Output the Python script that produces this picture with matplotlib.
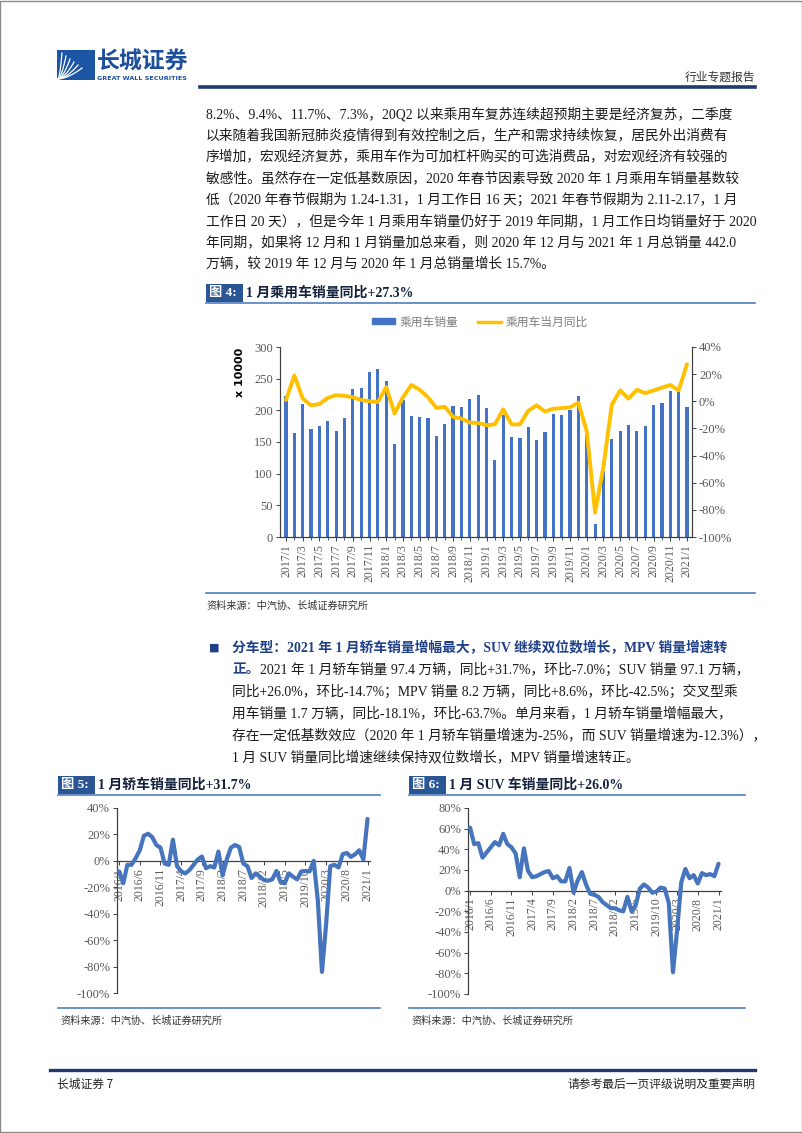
import matplotlib
matplotlib.use("Agg")
import matplotlib.pyplot as plt
from matplotlib.patches import Rectangle, Patch
from matplotlib.lines import Line2D
from matplotlib.ticker import FuncFormatter
import numpy as np

# ---------------- data ----------------
sales_labels = ["2017/1", "2017/3", "2017/5", "2017/7", "2017/9", "2017/11",
                "2018/1", "2018/3", "2018/5", "2018/7", "2018/9", "2018/11",
                "2019/1", "2019/3", "2019/5", "2019/7", "2019/9", "2019/11",
                "2020/1", "2020/3", "2020/5", "2020/7", "2020/9", "2020/11",
                "2021/1"]
# 乘用车销量 (x 10000), monthly 2017/1 .. 2021/1
car_sales = [222, 164, 210, 171, 175, 183, 168, 188, 234, 236, 260, 266,
             246, 147, 217, 191, 189, 188, 159, 179, 207, 205, 218, 224,
             203, 122, 193, 158, 156, 173, 153, 166, 194, 193, 201, 222,
             161, 21, 104, 154, 168, 177, 167, 176, 209, 211, 231, 229,
             206]
# 乘用车当月同比 (%)
car_yoy = [1, 19, 2, -3, -2, 2.5, 4.5, 4, 3, 1, 0, -0.5,
           10.5, -9, 3, 12, 8.5, 3, -5, -4, -11.5, -12.7, -15.7, -16,
           -17.6, -17, -6, -17, -17, -7, -3, -7.5, -5.5, -5, -4.5, -1,
           -22, -82, -48, -2.5, 8, 2, 8.5, 6, 8, 10, 12, 8,
           27.3]

yoy_labels = ["2016/1", "2016/6", "2016/11", "2017/4", "2017/9", "2018/2",
              "2018/7", "2018/12", "2019/5", "2019/10", "2020/3", "2020/8",
              "2021/1"]
# 轿车销量同比 (%), monthly 2016/1 .. 2021/1
sedan_yoy = [-8, -17, -3, -3, 2, 8, 19, 20.5, 18, 12, 10, -2,
             -3, 16, -4, -8, -9.5, -7, -3, 1, 3.3, -5.6, -4, -5,
             7, -11, 1, 10, 12, 10.5, -2, -4, -13, -9.5, -12, -14.6,
             -15, -14, -7.7, -16, -17, -9.5, -12, -14, -8, -7.7, -8, 0,
             -30, -84, -48, -4, -3, -5, 5, 6, 3, 5, 8, 1,
             31.7]
# SUV销量同比 (%), monthly 2016/1 .. 2021/1
suv_yoy = [61, 45, 46, 32, 37, 42, 47, 44, 55, 45, 42, 36,
           13, 41, 19, 13, 14, 16, 18, 19, 12, 14, 9, 9,
           22, -2, 10, 18, 6, -3, -4, -6, -11, -14, -17, -17,
           -19, -20, -6, -20, -14, 2, 6, 3, -2, -1, 3, 2,
           -12, -79, -38, 8, 21, 12, 15, 7, 17, 15, 16, 14,
           26]

para1 = [
    "8.2%、9.4%、11.7%、7.3%，20Q2 以来乘用车复苏连续超预期主要是经济复苏，二季度",
    "以来随着我国新冠肺炎疫情得到有效控制之后，生产和需求持续恢复，居民外出消费有",
    "序增加，宏观经济复苏，乘用车作为可加杠杆购买的可选消费品，对宏观经济有较强的",
    "敏感性。虽然存在一定低基数原因，2020 年春节因素导致 2020 年 1 月乘用车销量基数较",
    "低（2020 年春节假期为 1.24-1.31，1 月工作日 16 天；2021 年春节假期为 2.11-2.17，1 月",
    "工作日 20 天），但是今年 1 月乘用车销量仍好于 2019 年同期，1 月工作日均销量好于 2020",
    "年同期，如果将 12 月和 1 月销量加总来看，则 2020 年 12 月与 2021 年 1 月总销量 442.0",
    "万辆，较 2019 年 12 月与 2020 年 1 月总销量增长 15.7%。",
]
bullet_title = "分车型：2021 年 1 月轿车销量增幅最大，SUV 继续双位数增长，MPV 销量增速转"
bullet_lines = [
    "2021 年 1 月轿车销量 97.4 万辆，同比+31.7%，环比-7.0%；SUV 销量 97.1 万辆，",
    "同比+26.0%，环比-14.7%；MPV 销量 8.2 万辆，同比+8.6%，环比-42.5%；交叉型乘",
    "用车销量 1.7 万辆，同比-18.1%，环比-63.7%。单月来看，1 月轿车销量增幅最大，",
    "存在一定低基数效应（2020 年 1 月轿车销量增速为-25%，而 SUV 销量增速为-12.3%），",
    "1 月 SUV 销量同比增速继续保持双位数增长，MPV 销量增速转正。",
]

# ---------------- page ----------------
W, H = 802, 1133
fig = plt.figure(figsize=(W / 100, H / 100), dpi=100)
fig.patch.set_facecolor("white")

SER = ["Liberation Serif", "Noto Sans CJK SC"]
SANS = ["Noto Sans CJK SC", "DejaVu Sans"]
NAVY = "#1F3A6E"
BOXBLUE = "#2A5696"
RULE = "#4F7FBF"
TXT = "#1a1a1a"
BAR = "#4472C4"
GOLD = "#FFC000"
LINEBLUE = "#4675BD"
TICK = "#595959"


def fx(x):
    return x / W


def fy(y):
    return 1 - y / H


def ftext(x, y, s, **kw):
    kw.setdefault("family", SER)
    kw.setdefault("va", "center")
    kw.setdefault("color", TXT)
    return fig.text(fx(x), fy(y), s, **kw)


def hline(x0, x1, y, color, lw):
    fig.add_artist(Line2D([fx(x0), fx(x1)], [fy(y), fy(y)], color=color,
                          lw=lw, transform=fig.transFigure))


def frect(x0, y0, x1, y1, color, **kw):
    fig.add_artist(Rectangle((fx(x0), fy(y1)), fx(x1) - fx(x0), fy(y0) - fy(y1),
                             facecolor=color, edgecolor="none",
                             transform=fig.transFigure, **kw))


# page frame
fig.add_artist(Rectangle((0.0005, 0.0005), 0.999, 0.999, fill=False,
                         edgecolor="#8a8a8a", lw=1.0, transform=fig.transFigure))

# header logo
frect(57, 50, 95, 80, "#1B56A5")
for k in range(6):
    t = np.linspace(0, 1, 20)
    xs = 58 + (4 + 4 * k) * t ** 0.6
    ys = 79 - (26 - 3 * k) * t
    fig.add_artist(Line2D(fx(xs), fy(ys), color="white", lw=0.9,
                          transform=fig.transFigure))
ftext(97, 62, "长城证券", family=SANS, fontsize=16.5, fontweight="bold", color="#1D4F9C")
ftext(97, 78, "GREAT WALL SECURITIES", family="DejaVu Sans", fontsize=4.6,
      fontweight="bold", color="#1D4F9C")
ftext(755, 77, "行业专题报告", family=SANS, fontsize=8.5, ha="right", color="#333333")
hline(200, 755, 87, NAVY, 2.6)

# paragraph 1
for i, s in enumerate(para1):
    ftext(206, 114 + 21.4 * i, s, fontsize=9.9)


def fig_title(x0, x1, y, num, title):
    frect(x0, y - 9, x0 + 37, y + 9, BOXBLUE)
    ftext(x0 + 3, y, num, fontsize=9.5, fontweight="bold", color="white")
    ftext(x0 + 40, y, title, fontsize=10, fontweight="bold", color="#14213D")
    hline(x0, x1, y + 9.5, RULE, 1.2)


# figure 4 title
fig_title(206, 755, 293, "图 4:", "1 月乘用车销量同比+27.3%")

# ---------------- chart 4 ----------------
ax4 = fig.add_axes([fx(280), fy(537), (692 - 280) / W, (537 - 347) / H])
xs4 = np.arange(len(car_sales))
bars = ax4.bar(xs4, car_sales, width=0.38, color=BAR, zorder=2)
ax4.set_ylim(0, 300)
ax4.set_yticks(range(0, 301, 50))
ax4.set_xlim(-0.72, len(car_sales) - 1 + 0.6)
ax4.set_xticks(np.arange(0, len(car_sales), 2))
ax4.set_xticklabels(sales_labels)
ax4.set_xticks(xs4, minor=True)
ax4r = ax4.twinx()
ax4r.plot(xs4, car_yoy, color=GOLD, lw=2.8, solid_joinstyle="round",
          solid_capstyle="round", zorder=3)
ax4r.set_ylim(-100, 40)
ax4r.set_yticks(range(-100, 41, 20))
ax4r.yaxis.set_major_formatter(FuncFormatter(lambda v, p: f"{v:.0f}%"))
for a in (ax4, ax4r):
    a.spines["top"].set_visible(False)
    for s in ("left", "right", "bottom"):
        a.spines[s].set_color("#404040")
        a.spines[s].set_linewidth(0.8)
    a.tick_params(axis="both", which="major", length=3, width=0.7, color="#404040",
                  labelsize=9, labelcolor=TICK, pad=2, labelfontfamily="Liberation Serif")
    a.tick_params(axis="x", which="minor", length=2, width=0.6, color="#404040")
ax4.tick_params(axis="x", labelsize=8.5, labelrotation=90)
ax4.set_facecolor("none")
ftext(240, 372, "x 10000", family="DejaVu Sans", fontsize=8, fontweight="bold",
      rotation=90, ha="center", color="black")
leg = ax4.legend(handles=[Patch(color=BAR), Line2D([], [], color=GOLD, lw=2.5)],
                 labels=["乘用车销量", "乘用车当月同比"], ncol=2, frameon=False,
                 loc="center", bbox_to_anchor=(fx(480), fy(322)),
                 bbox_transform=fig.transFigure, handlelength=2.0, handleheight=0.35,
                 columnspacing=1.6, handletextpad=0.4,
                 prop={"family": SANS, "size": 8.5})
for t in leg.get_texts():
    t.set_color("#7F7F7F")

hline(206, 755, 593, RULE, 1.2)
ftext(206, 606, "资料来源：中汽协、长城证券研究所", family=SANS, fontsize=7.3, color="#333333")

# bullet paragraph
ftext(209, 648, "■", family="DejaVu Sans", fontsize=8, color="#1F3F86")
ftext(232, 648, bullet_title, fontsize=9.9, fontweight="bold", color="#1F3F86")
fig.canvas.draw()
rend = fig.canvas.get_renderer()
t0 = ftext(232, 670, "正。", fontsize=9.9, fontweight="bold", color="#1F3F86")
bb = t0.get_window_extent(renderer=rend)
xstart = bb.x1 + 1
for i, s in enumerate(bullet_lines):
    x = xstart if i == 0 else 232
    ftext(x, 670 + 21.8 * i, s, fontsize=9.9)

# ---------------- chart 5 / 6 ----------------
fig_title(58, 380, 785, "图 5:", "1 月轿车销量同比+31.7%")
fig_title(409, 745, 785, "图 6:", "1 月 SUV 车销量同比+26.0%")


def yoy_axis(rect, values, ylo, yhi):
    ax = fig.add_axes(rect)
    ax.spines["top"].set_visible(False)
    ax.spines["right"].set_visible(False)
    ax.spines["bottom"].set_position(("data", 0))
    xs = np.arange(len(values))
    ax.plot(xs, values, color=LINEBLUE, lw=3.0, solid_joinstyle="round",
            solid_capstyle="round", zorder=3)
    ax.set_ylim(ylo, yhi)
    ax.set_yticks(range(ylo, yhi + 1, 20))
    ax.yaxis.set_major_formatter(FuncFormatter(lambda v, p: f"{v:.0f}%"))
    ax.set_xlim(-0.5, len(values) - 1 + 0.6)
    ax.set_xticks(np.arange(0, len(values), 5))
    ax.set_xticklabels(yoy_labels)
    for s in ("left", "bottom"):
        ax.spines[s].set_color("#404040")
        ax.spines[s].set_linewidth(0.9)
    ax.tick_params(axis="both", length=3, width=0.7, color="#404040",
                   labelsize=9, labelcolor=TICK, pad=2,
                   labelfontfamily="Liberation Serif")
    ax.tick_params(axis="x", labelsize=8.5, labelrotation=90)
    ax.set_facecolor("none")
    return ax


ax5 = yoy_axis([fx(117), fy(993), (370 - 117) / W, (993 - 808) / H], sedan_yoy, -100, 40)
ax6 = yoy_axis([fx(468), fy(994), (721 - 468) / W, (994 - 808) / H], suv_yoy, -100, 80)

hline(58, 380, 1008, RULE, 1.2)
hline(409, 745, 1008, RULE, 1.2)
ftext(60, 1021, "资料来源：中汽协、长城证券研究所", family=SANS, fontsize=7.3, color="#333333")
ftext(411, 1021, "资料来源：中汽协、长城证券研究所", family=SANS, fontsize=7.3, color="#333333")

# footer
hline(50, 755, 1070, NAVY, 2.4)
ftext(57, 1084, "长城证券 7", family=SANS, fontsize=8.5, color="#222222")
ftext(755, 1084, "请参考最后一页评级说明及重要声明", family=SANS, fontsize=8.5,
      ha="right", color="#222222")

fig.savefig("out.png", dpi=100)
